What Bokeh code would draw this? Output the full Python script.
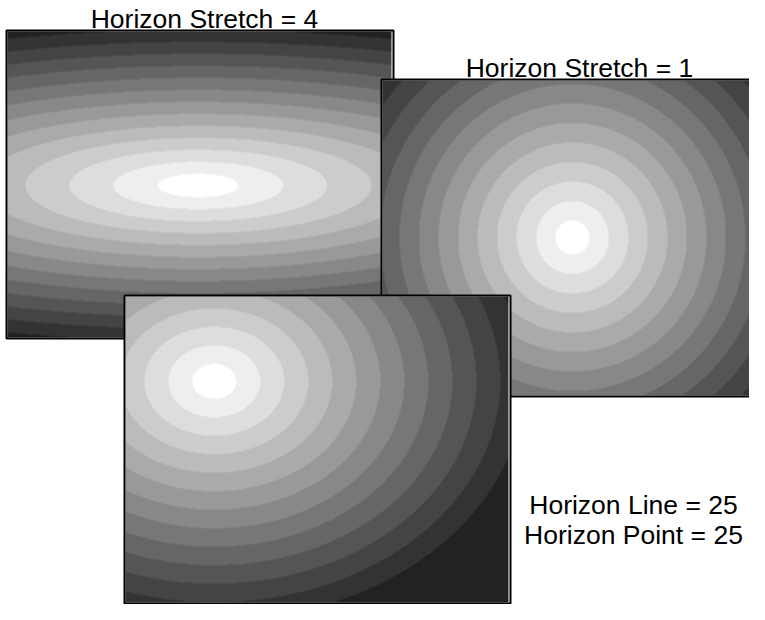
import numpy as np
from bokeh.plotting import figure
from bokeh.models import Range1d, LinearColorMapper
from bokeh.core.properties import value
from bokeh.embed import file_html
from bokeh.resources import INLINE

# ---------------- data ----------------
GRAYS = ["#ffffff", "#eeeeee", "#dddddd", "#cccccc", "#bbbbbb", "#aaaaaa", "#999999",
         "#888888", "#777777", "#666666", "#555555", "#444444", "#333333", "#222222"]

# ring semi-axes (px), inner to outer
p1_ring_rx = [40.5, 85, 129, 173, 217, 261, 305, 349, 393, 437, 481, 525, 569]
p1_ring_ry = [11.7, 23.7, 35.7, 47.7, 59.7, 71.7, 83.7, 95.7, 107.7, 119.7, 131.7, 143.7, 155.7]

p2_ring_rx = [17, 36.5, 56, 75.5, 95, 114.5, 134, 153.5, 173, 192.5, 212, 231.5, 251]
p2_ring_ry = [17, 36.5, 56, 75.5, 95, 114.5, 134, 153.5, 173, 192.5, 212, 231.5, 251]

p3_ring_rx = [22, 46, 70, 94, 118, 142, 166, 190, 214, 238, 262, 286, 310]
p3_ring_ry = [17.5, 36, 54.5, 73, 91.5, 110, 128.5, 147, 165.5, 184, 202.5, 221, 239.5]

titles = ["Horizon Stretch = 4", "Horizon Stretch = 1"]
notes = ["Horizon Line = 25", "Horizon Point = 25"]

# ---------------- layout (picture pixel coordinates) ----------------
W, H = 749, 604

panels = [
    dict(frame=(6, 393, 30, 338), center=(197.8, 185.0), rx=p1_ring_rx, ry=p1_ring_ry),
    dict(frame=(381, 770, 79, 396), center=(572.0, 237.0), rx=p2_ring_rx, ry=p2_ring_ry),
    dict(frame=(124, 510, 295, 603), center=(213.8, 380.8), rx=p3_ring_rx, ry=p3_ring_ry),
]

# vertical centres of the text lines
title_pos = [(204, 18.0), (579, 67.4)]
note_pos = [(633, 504.7), (633, 534.7)]

p = figure(width=W, height=H, output_backend="svg", toolbar_location=None,
           x_range=Range1d(0, W), y_range=Range1d(-H, 0),
           x_axis_type=None, y_axis_type=None, min_border=0)
p.outline_line_color = None
p.background_fill_color = "white"
p.border_fill_color = "white"
p.grid.visible = False

mapper = LinearColorMapper(palette=GRAYS, low=-0.5, high=len(GRAYS) - 0.5)

for pan in panels:
    fx0, fx1, fy0, fy1 = pan["frame"]
    p.quad(left=[fx0], right=[fx1], top=[-fy0], bottom=[-fy1],
           fill_color="white", line_color=None)
    ix0, ix1 = fx0 + 1, fx1 - 2
    iy0, iy1 = fy0 + 1, fy1 - 1
    nx = int(round(ix1 - ix0))
    ny = int(round(iy1 - iy0))
    cx, cy = pan["center"]
    xs = ix0 + np.arange(nx) + 0.5
    ys = iy1 - (np.arange(ny) + 0.5)  # row 0 at the bottom
    X, Y = np.meshgrid(xs, ys)
    dx = X - cx
    dy = Y - cy
    lev = np.zeros((ny, nx), dtype=np.uint8)
    for rx, ry in zip(pan["rx"], pan["ry"]):
        lev += (((dx / rx) ** 2 + (dy / ry) ** 2) > 1.0).astype(np.uint8)
    p.image(image=[lev.astype(np.float32)], x=ix0, y=-iy1, dw=nx, dh=ny,
            color_mapper=mapper)
    p.quad(left=[fx0], right=[fx1], top=[-fy0], bottom=[-fy1],
           fill_color=None, line_color="black", line_width=2)

font = value("Liberation Sans")
p.text(x=[t[0] for t in title_pos], y=[-t[1] for t in title_pos], text=titles,
       text_align="center", text_baseline="middle", text_font=font,
       text_font_size="26.5px", text_color="black")
p.text(x=[t[0] for t in note_pos], y=[-t[1] for t in note_pos], text=notes,
       text_align="center", text_baseline="middle", text_font=font,
       text_font_size="26.5px", text_color="black")

open("out.html", "w").write(file_html(p, INLINE))
